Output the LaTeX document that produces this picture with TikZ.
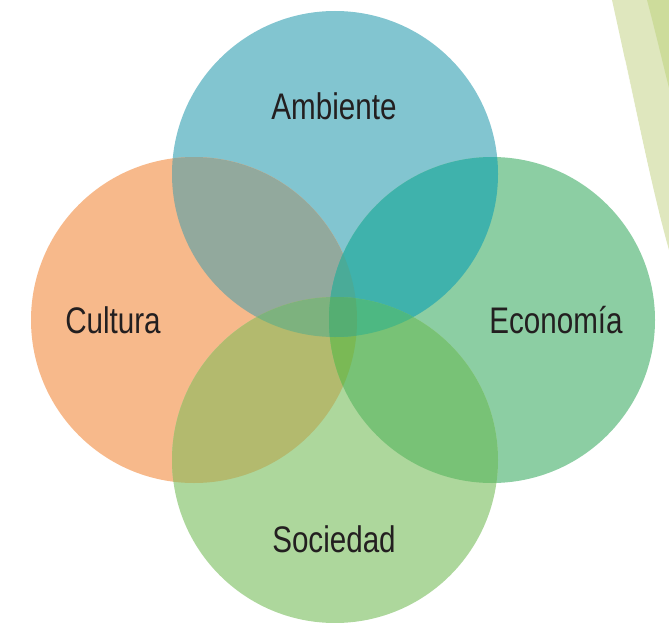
\documentclass[tikz,border=0pt]{standalone}
\usepackage{fontspec}
\setmainfont[FakeStretch=0.8]{Liberation Sans}
\definecolor{ambC}{HTML}{82C5D0}
\definecolor{culC}{HTML}{F7B98B}
\definecolor{ecoC}{HTML}{8CCEA3}
\definecolor{socC}{HTML}{ADD79C}
\definecolor{acC}{HTML}{92A99D}
\definecolor{aeC}{HTML}{3FB2AC}
\definecolor{csC}{HTML}{B3BA6E}
\definecolor{esC}{HTML}{78C276}
\definecolor{ceaC}{HTML}{4AAB98}
\definecolor{cesC}{HTML}{7AB955}
\definecolor{ascC}{HTML}{7DB27E}
\definecolor{aseC}{HTML}{4DB882}
\definecolor{allC}{HTML}{55AE72}
\definecolor{bandL}{HTML}{DFE7BE}
\definecolor{bandD}{HTML}{CDDC9B}
\definecolor{txtC}{HTML}{231F20}
\begin{document}
\begin{tikzpicture}[x=1pt,y=-1pt,
  lbl/.style={text=txtC,font=\fontsize{37}{40}\selectfont,anchor=base,inner sep=0pt}]
\useasboundingbox (0,0) rectangle (669,623);
\def\R{163pt}
\coordinate (cA) at (335,174);
\coordinate (cC) at (194,320);
\coordinate (cE) at (492,320);
\coordinate (cS) at (335,460);
% background bands
\fill[bandL] (612,0) .. controls (632,90) and (652,190) .. (669,250) -- (669,0) -- cycle;
\fill[bandD] (647,0) .. controls (655,30) and (662,60) .. (669,88) -- (669,0) -- cycle;
\draw[white,line width=0.6pt,opacity=0.7] (625,60) .. controls (638,120) and (650,180) .. (663,235);
% circles
\fill[ambC] (cA) circle (\R);
\fill[culC] (cC) circle (\R);
\fill[ecoC] (cE) circle (\R);
\fill[socC] (cS) circle (\R);
% pair overlaps
\begin{scope}\clip (cA) circle (\R); \fill[acC] (cC) circle (\R); \end{scope}
\begin{scope}\clip (cA) circle (\R); \fill[aeC] (cE) circle (\R); \end{scope}
\begin{scope}\clip (cC) circle (\R); \fill[csC] (cS) circle (\R); \end{scope}
\begin{scope}\clip (cE) circle (\R); \fill[esC] (cS) circle (\R); \end{scope}
% triple overlaps
\begin{scope}\clip (cC) circle (\R); \clip (cE) circle (\R); \fill[ceaC] (cA) circle (\R); \end{scope}
\begin{scope}\clip (cC) circle (\R); \clip (cE) circle (\R); \fill[cesC] (cS) circle (\R); \end{scope}
\begin{scope}\clip (cA) circle (\R); \clip (cS) circle (\R); \fill[ascC] (cC) circle (\R); \end{scope}
\begin{scope}\clip (cA) circle (\R); \clip (cS) circle (\R); \fill[aseC] (cE) circle (\R); \end{scope}
% all four
\begin{scope}\clip (cA) circle (\R); \clip (cS) circle (\R); \clip (cC) circle (\R); \fill[allC] (cE) circle (\R); \end{scope}
% labels
\node[lbl] (tA) at (334,120) {Ambiente};
\node[lbl] (tC) at (113,333) {Cultura};
\node[lbl] (tE) at (556,333) {Economía};
\node[lbl] (tS) at (334,552) {Sociedad};
\end{tikzpicture}
\end{document}
